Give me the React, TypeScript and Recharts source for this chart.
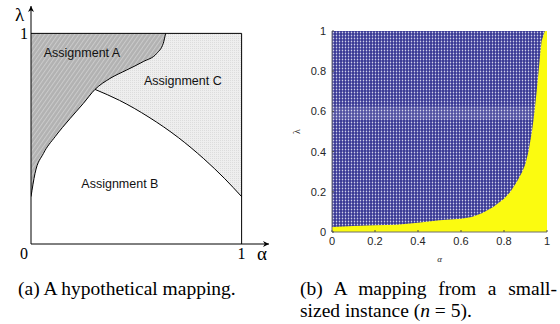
import React from 'react';
import {
  ComposedChart,
  Area,
  Line,
  XAxis,
  YAxis,
  ReferenceLine,
  ReferenceArea,
  ReferenceDot,
  CartesianGrid,
} from 'recharts';

// ---------- Panel (a): hypothetical mapping ----------
const boundaryAAlpha = [0, 0.019, 0.059, 0.114, 0.185, 0.248, 0.304, 0.375, 0.454, 0.533, 0.597, 0.628, 0.639];
const boundaryALambda = [0.225, 0.335, 0.43, 0.509, 0.595, 0.667, 0.734, 0.786, 0.826, 0.866, 0.905, 0.953, 1.0];
const boundaryBCAlpha = [0.304, 0.42, 0.56, 0.7, 0.82, 0.92, 1.0];
const boundaryBCLambda = [0.734, 0.682, 0.602, 0.505, 0.405, 0.31, 0.225];
const regionLabels = ['Assignment A', 'Assignment B', 'Assignment C'];
const regionLabelAlpha = [0.242, 0.422, 0.721];
const regionLabelLambda = [0.911, 0.285, 0.778];
const axisTicksA = [0, 1];
const yTicksA = [1];
const axisMaxA = 1.13;

// ---------- Panel (b): small instance ----------
const alphaB = [0, 0.05, 0.1, 0.2, 0.3, 0.4, 0.5, 0.6, 0.65, 0.7, 0.75, 0.8, 0.83, 0.86, 0.885, 0.9, 0.914, 0.93, 0.942, 0.952, 0.961, 0.968, 0.975, 0.99, 1];
const lowerB = [0.025, 0.027, 0.03, 0.033, 0.036, 0.046, 0.058, 0.066, 0.075, 0.095, 0.125, 0.165, 0.2, 0.25, 0.3, 0.34, 0.4, 0.5, 0.6, 0.7, 0.8, 0.88, 0.95, 1, 1];
const ticksB = [0, 0.2, 0.4, 0.6, 0.8, 1];
const bandLambda = [0.558, 0.625];
const bandAlphaMax = 0.94;

const areaAData = boundaryAAlpha.map((a, i) => ({ a, range: [boundaryALambda[i], 1] }));
const boundaryAData = boundaryAAlpha.map((a, i) => ({ a, l: boundaryALambda[i] }));
const areaCData = boundaryBCAlpha.map((a, i) => ({ a, range: [boundaryBCLambda[i], 1] }));
const boundaryBCData = boundaryBCAlpha.map((a, i) => ({ a, l: boundaryBCLambda[i] }));
const dataB = alphaB.map((a, i) => ({ a, range: [lowerB[i], 1] }));

const serif = 'Liberation Serif';
const sans = 'Liberation Sans';

const TickA = (props: any) => {
  const { x, y, payload } = props;
  return (
    <text x={payload.value === 0 ? x - 7 : x} y={y} dy="0.71em" textAnchor="middle" fontFamily={serif} fontSize={16} fill="#000">
      {payload.value}
    </text>
  );
};

const PanelA = () => (
  <ComposedChart width={280} height={268} margin={{ top: 6, right: 11, bottom: 0, left: 0 }}>
    <defs>
      <pattern id="hatchA" patternUnits="userSpaceOnUse" width="3.5" height="3.5" patternTransform="rotate(35)">
        <rect x="0" y="0" width="3.5" height="3.5" fill="#b2b2b2" />
        <rect x="0" y="0" width="1" height="3.5" fill="#cbcbcb" />
      </pattern>
      <pattern id="dotC" patternUnits="userSpaceOnUse" width="2" height="2">
        <rect x="0" y="0" width="2" height="2" fill="#eeeeee" />
        <rect x="0" y="0" width="1" height="1" fill="#dcdcdc" />
      </pattern>
      <marker id="arrowHead" viewBox="0 0 10 10" refX="10" refY="5" markerWidth="9" markerHeight="6" markerUnits="userSpaceOnUse" orient="auto-start-reverse">
        <path d="M0,0 L10,5 L0,10 L3,5 z" fill="#000" />
      </marker>
    </defs>
    <XAxis
      dataKey="a"
      type="number"
      domain={[0, axisMaxA]}
      allowDataOverflow
      ticks={axisTicksA}
      tick={<TickA />}
      tickLine={false}
      tickSize={0}
      tickMargin={4}
      height={24}
      axisLine={{ stroke: '#000', strokeWidth: 1, markerEnd: 'url(#arrowHead)' }}
      label={(p: any) => {
        const vb = p.viewBox;
        return (
          <text x={vb.x + vb.width - 7} y={vb.y + 16} textAnchor="middle" fontFamily={serif} fontSize={19} fill="#000">
            α
          </text>
        );
      }}
    />
    <YAxis
      type="number"
      domain={[0, axisMaxA]}
      allowDataOverflow
      ticks={yTicksA}
      tickLine={false}
      tickSize={0}
      tickMargin={3}
      width={31}
      tick={{ fontFamily: serif, fontSize: 16, fill: '#000' }}
      axisLine={{ stroke: '#000', strokeWidth: 1, markerStart: 'url(#arrowHead)' }}
      label={(p: any) => {
        const vb = p.viewBox;
        return (
          <text x={vb.x + vb.width - 11.5} y={vb.y + 15} textAnchor="middle" fontFamily={serif} fontSize={19} fill="#000">
            λ
          </text>
        );
      }}
    />
    <Area data={areaCData} dataKey="range" type="monotone" stroke="none" fill="url(#dotC)" fillOpacity={1} isAnimationActive={false} />
    <Area data={areaAData} dataKey="range" type="monotone" stroke="none" fill="url(#hatchA)" fillOpacity={1} isAnimationActive={false} />
    <Line data={boundaryAData} dataKey="l" type="monotone" stroke="#000" strokeWidth={1} dot={false} isAnimationActive={false} />
    <Line data={boundaryBCData} dataKey="l" type="monotone" stroke="#000" strokeWidth={1} dot={false} isAnimationActive={false} />
    <ReferenceLine segment={[{ x: 0, y: 1 }, { x: 1, y: 1 }]} stroke="#000" strokeWidth={1} />
    <ReferenceLine segment={[{ x: 1, y: 0 }, { x: 1, y: 1 }]} stroke="#000" strokeWidth={1} />
    {regionLabels.map((t, i) => (
      <ReferenceDot
        key={t}
        x={regionLabelAlpha[i]}
        y={regionLabelLambda[i]}
        r={0}
        fill="none"
        stroke="none"
        label={{ value: t, position: 'center', fontFamily: sans, fontSize: 12.5, fill: '#111' }}
      />
    ))}
  </ComposedChart>
);

const PanelB = () => (
  <ComposedChart width={280} height={270} data={dataB} margin={{ top: 31, right: 13, bottom: 0, left: 0 }}>
    <defs>
      <pattern id="blueDots" patternUnits="userSpaceOnUse" width="3" height="3">
        <rect x="0" y="0" width="3" height="3" fill="#3c3c96" />
        <rect x="2" y="0" width="1" height="3" fill="#7070b6" />
        <rect x="0" y="2" width="3" height="1" fill="#5656a6" />
        <rect x="2" y="2" width="1" height="1" fill="#d0d0e8" />
      </pattern>
    </defs>
    <CartesianGrid horizontal={false} vertical={false} fill="#fbfb10" stroke="none" />
    <XAxis
      dataKey="a"
      type="number"
      domain={[0, 1]}
      ticks={ticksB}
      tickLine={{ stroke: '#4a4a4a' }}
      tickSize={-2}
      tickMargin={7}
      height={38}
      tick={{ fontFamily: sans, fontSize: 11, fill: '#262626' }}
      axisLine={{ stroke: '#6e6e6e', strokeWidth: 1 }}
      label={(p: any) => {
        const vb = p.viewBox;
        return (
          <text x={vb.x + vb.width / 2} y={vb.y + 30} textAnchor="middle" fontFamily={serif} fontStyle="italic" fontSize={9} fill="#262626">
            α
          </text>
        );
      }}
    />
    <YAxis
      type="number"
      domain={[0, 1]}
      ticks={ticksB}
      tickLine={{ stroke: '#4a4a4a' }}
      tickSize={-2}
      tickMargin={8}
      width={52}
      tick={{ fontFamily: sans, fontSize: 11, fill: '#262626' }}
      axisLine={{ stroke: '#6e6e6e', strokeWidth: 1 }}
      label={(p: any) => {
        const vb = p.viewBox;
        const cx = vb.x + 20;
        const cy = vb.y + vb.height / 2;
        return (
          <text x={cx} y={cy} transform={`rotate(-90 ${cx} ${cy})`} textAnchor="middle" fontFamily={serif} fontSize={10} fill="#262626">
            λ
          </text>
        );
      }}
    />
    <Area dataKey="range" type="linear" stroke="none" fill="url(#blueDots)" fillOpacity={1} isAnimationActive={false} />
    <ReferenceArea x1={0} x2={bandAlphaMax} y1={bandLambda[0]} y2={bandLambda[1]} fill="#ffffff" fillOpacity={0.12} stroke="none" />
  </ComposedChart>
);

const captionStyle: React.CSSProperties = {
  position: 'absolute',
  fontFamily: serif,
  fontSize: 19.5,
  lineHeight: '22px',
  color: '#000',
  whiteSpace: 'nowrap',
};

export default function App() {
  return (
    <div style={{ position: 'absolute', left: 0, top: 0, width: 560, height: 324, background: '#fff', overflow: 'hidden' }}>
      <div style={{ position: 'absolute', left: 0, top: 0 }}>
        <PanelA />
      </div>
      <div style={{ position: 'absolute', left: 280, top: 0 }}>
        <PanelB />
      </div>
      <div style={{ ...captionStyle, left: 18, top: 278 }}>(a) A hypothetical mapping.</div>
      <div style={{ ...captionStyle, left: 300, top: 278, width: 257, textAlign: 'justify', textAlignLast: 'justify' }}>
        (b) A mapping from a small-
      </div>
      <div style={{ ...captionStyle, left: 300, top: 300 }}>
        sized instance (<i>n</i> = 5).
      </div>
    </div>
  );
}
